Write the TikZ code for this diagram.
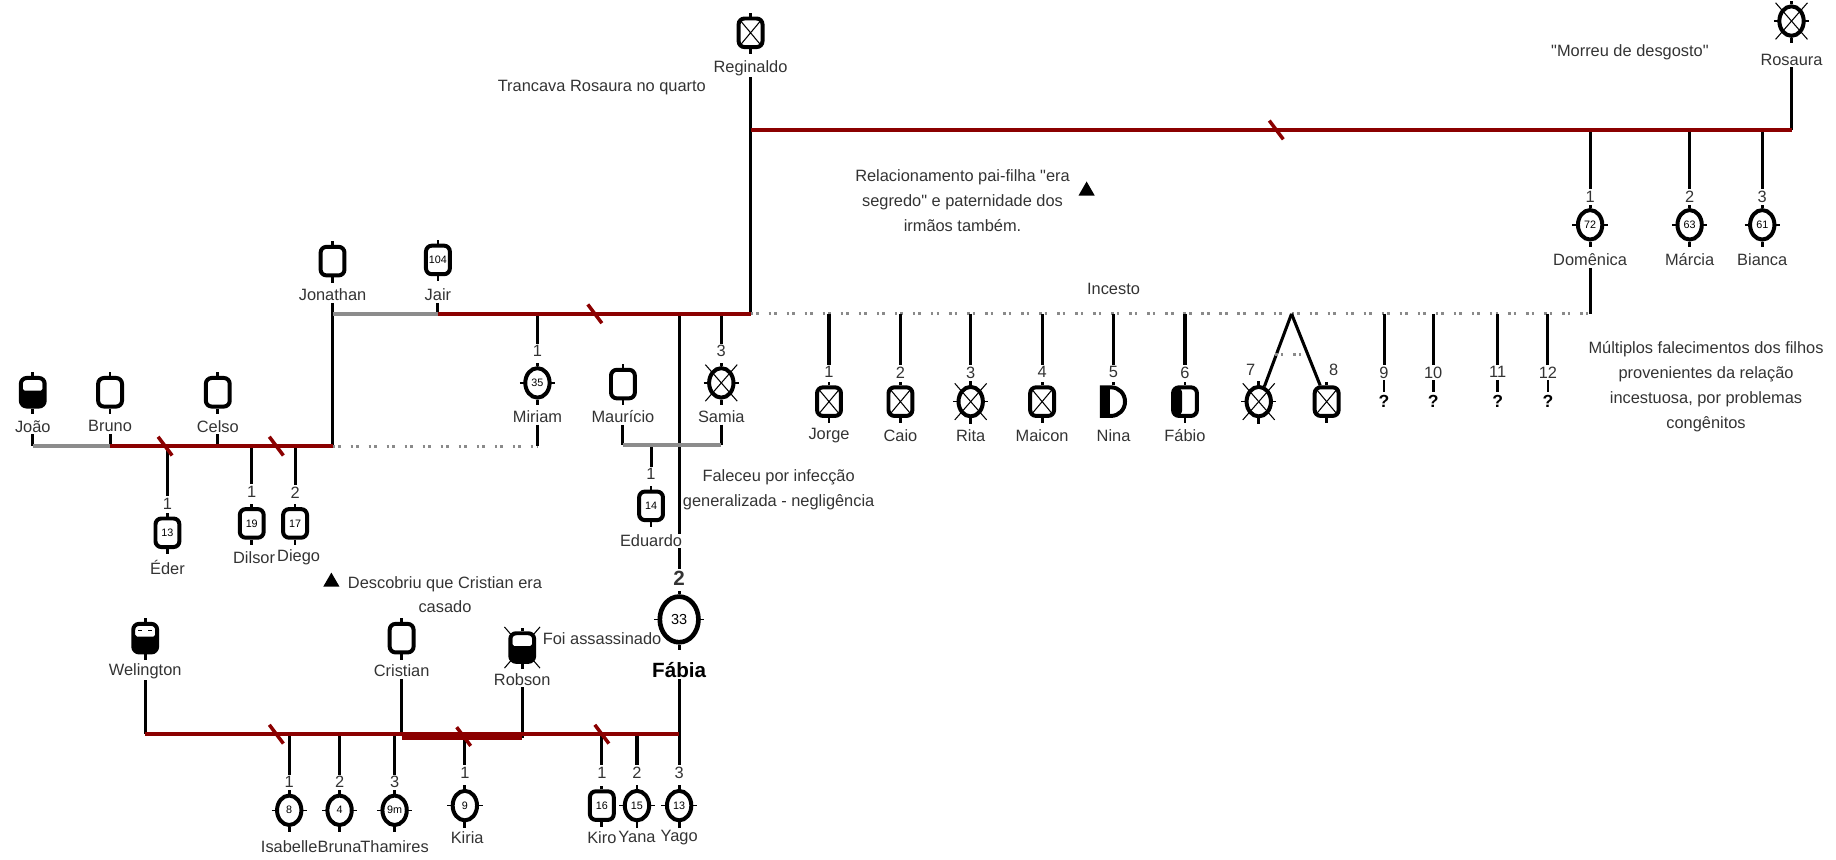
\documentclass[tikz,border=0pt]{standalone}
\usepackage{fontspec}
\setmainfont{Liberation Sans}
\usetikzlibrary{shapes.geometric}
\pgfdeclarelayer{bg}
\pgfsetlayers{bg,main}
\definecolor{famred}{HTML}{8B0000}
\definecolor{txtc}{HTML}{333333}
\definecolor{greyl}{HTML}{8C8C8C}
\definecolor{dotc}{HTML}{8A8A8A}
\tikzset{
 lab/.style={font=\fontsize{7}{8}\selectfont, text=txtc, inner sep=0.6pt},
 note/.style={lab, align=center, font=\fontsize{7}{10.7}\selectfont},
 symb/.style={line width=1.7pt, inner sep=0pt, font=\fontsize{4.6}{5}\selectfont, text=black, fill=white},
 male/.style={symb, draw, rectangle, rounded corners=2.5pt, minimum width=10.2pt, minimum height=12.2pt},
 female/.style={symb, draw, ellipse, minimum width=10.4pt, minimum height=12.6pt},
 dmx/.style={path picture={\draw[line width=0.45pt] (path picture bounding box.north west) -- (path picture bounding box.south east) (path picture bounding box.south west) -- (path picture bounding box.north east);}},
 drug/.style={fill=black, path picture={\fill[white, rounded corners=0.8pt] ([shift={(0.85pt,-0.85pt)}]path picture bounding box.north west) rectangle ([shift={(-0.85pt,-5.4pt)}]path picture bounding box.north east);}},
 halfm/.style={path picture={\fill[black] (path picture bounding box.south west) rectangle ([xshift=3.9pt]path picture bounding box.north west);}},
 famline/.style={line width=1.7pt, color=famred},
 greyline/.style={line width=1.7pt, color=greyl},
 blk/.style={line width=1.3pt, black},
 dots/.style={line width=1.3pt, dotc, dash pattern=on 1.1pt off 1.3pt on 1.1pt off 4.2pt},
 slashl/.style={line width=1.5pt, famred},
 stub/.style={line width=1.2pt},
 tickl/.style={line width=0.6pt},
 xline/.style={line width=0.45pt},
 tri/.style={regular polygon, regular polygon sides=3, fill=black, inner sep=0pt, minimum size=8pt},
 qm/.style={lab, font=\bfseries\fontsize{7.5}{8}\selectfont, text=black, inner sep=1.5pt},
}
\newcommand\Msym[4][]{\node[male,#1] (#2) at (#3) {#4};\draw[stub] (#2.north) -- ++(0,1.5pt);\draw[stub] (#2.south) -- ++(0,-2.2pt);}
\newcommand\Fsym[4][]{\node[female,#1] (#2) at (#3) {#4};\draw[stub] (#2.north) -- ++(0,1.5pt);\draw[stub] (#2.south) -- ++(0,-2.2pt);\draw[tickl] ([xshift=-1.5pt]#2.west) -- ([xshift=1pt]#2.west);\draw[tickl] ([xshift=-1pt]#2.east) -- ([xshift=1.5pt]#2.east);}
\newcommand\Xout[1]{\draw[xline] ([shift={(-6.8pt,7.8pt)}]#1.center) -- ([shift={(6.8pt,-7.8pt)}]#1.center);\draw[xline] ([shift={(-6.8pt,-7.8pt)}]#1.center) -- ([shift={(6.8pt,7.8pt)}]#1.center);}
\newcommand\Slash[2]{\draw[slashl] ([shift={(-3pt,4pt)}]#1,#2) -- ([shift={(3pt,-4pt)}]#1,#2);}
\newcommand\qq{\textquotedbl}
\begin{document}
\begin{tikzpicture}[x=0.5pt,y=-0.5pt]
\useasboundingbox (0,0) rectangle (1568,734);
% ---------- top generation
\Msym[dmx]{reg}{641,28}{}
\node[lab] (l-reg) at (641,58) {Reginaldo};
\Fsym{ros}{1530,18}{}\Xout{ros}
\node[lab] (l-ros) at (1530,51) {Rosaura};
\node[lab] (t-tran) at (514,75) {Trancava Rosaura no quarto};
\node[lab] (t-morreu) at (1392,45) {\qq Morreu de desgosto\qq};
\coordinate (r-reg) at (641,111);
\coordinate (r-ros) at (1530,111);
\coordinate (j-reg) at (641,268);
% children of Reginaldo & Rosaura
\coordinate (r-dom) at (1358,111);
\coordinate (r-mar) at (1443,111);
\coordinate (r-bia) at (1505,111);
\node[lab] (n-dom) at (1358,168) {1};
\node[lab] (n-mar) at (1443,168) {2};
\node[lab] (n-bia) at (1505,168) {3};
\Fsym{dom}{1358,192}{72}
\Fsym{mar}{1443,192}{63}
\Fsym{bia}{1505,192}{61}
\node[lab] (l-dom) at (1358,222) {Domênica};
\node[lab] (l-mar) at (1443,222) {Márcia};
\node[lab] (l-bia) at (1505,222) {Bianca};
\coordinate (i-dom) at (1358,268);
% notes
\node[note] (t-rel) at (822,171) {Relacionamento pai-filha \qq era\\segredo\qq{} e paternidade dos\\irmãos também.};
\node[tri] (tri1) at (928,163) {};
\node[lab] (t-inc) at (951,247) {Incesto};
\node[note] (t-mult) at (1457,330) {Múltiplos falecimentos dos filhos\\provenientes da relação\\incestuosa, por problemas\\congênitos};
% ---------- Jonathan / Jair
\Msym{jon}{284,223}{}
\node[lab] (l-jon) at (284,252) {Jonathan};
\Msym{jair}{374,222}{104}
\node[lab] (l-jair) at (374,252) {Jair};
\coordinate (j-jon) at (284,268);
\coordinate (j-jair) at (374,268);
% ---------- left family
\Msym[drug]{joao}{28,335}{}
\Msym{bruno}{94,335}{}
\Msym{celso}{186,335}{}
\node[lab] (l-joao) at (28,364) {João};
\node[lab] (l-bruno) at (94,364) {Bruno};
\node[lab] (l-celso) at (186,364) {Celso};
\coordinate (f-joao) at (28,381);
\coordinate (f-bruno) at (94,381);
\coordinate (f-celso) at (186,381);
\coordinate (f-jon) at (284,381);
\coordinate (f-mir) at (459,381);
\coordinate (f-eder) at (143,381);
\coordinate (f-dil) at (215,381);
\coordinate (f-die) at (252,381);
\node[lab] (n-eder) at (143,430) {1};
\node[lab] (n-dil) at (215,420) {1};
\node[lab] (n-die) at (252,421) {2};
\Msym{eder}{143,455}{13}
\Msym{dil}{215,447}{19}
\Msym{die}{252,447}{17}
\node[lab] (l-eder) at (143,485) {Éder};
\node[lab] (l-dil) at (217,476) {Dilsor};
\node[lab] (l-die) at (255,476) {Diego};
% ---------- Miriam, Mauricio, Samia, Eduardo, Fabia
\coordinate (j-mir) at (459,268);
\node[lab] (n-mir) at (459,300) {1};
\Fsym{mir}{459,327}{35}
\node[lab] (l-mir) at (459,356) {Miriam};
\Msym{mau}{532,328}{}
\node[lab] (l-mau) at (532,356) {Maurício};
\coordinate (j-sam) at (616,268);
\node[lab] (n-sam) at (616,300) {3};
\Fsym{sam}{616,327}{}\Xout{sam}
\node[lab] (l-sam) at (616,356) {Samia};
\coordinate (m-mau) at (532,380);
\coordinate (m-sam) at (616,380);
\coordinate (m-edu) at (556,380);
\node[lab] (n-edu) at (556,405) {1};
\Msym{edu}{556,432}{14}
\node[lab, fill=white] (l-edu) at (556,462) {Eduardo};
\coordinate (j-fab) at (580,268);
\node[lab, font=\bfseries\fontsize{8.8}{9}\selectfont] (n-fab) at (580,494) {2};
\Fsym[minimum width=16.5pt, minimum height=19.5pt, line width=2pt, font=\fontsize{6.2}{6}\selectfont]{fab}{580,529}{33}
\node[lab, font=\bfseries\fontsize{8.8}{9}\selectfont, text=black] (l-fab) at (580,572) {Fábia};
\node[note] (t-fal) at (665,418) {Faleceu por infecção\\generalizada - negligência};
% ---------- incest children
\foreach \k/\xx in {1/708,2/769,3/829,4/890,5/951,6/1012,9/1182,10/1224,11/1279,12/1322}{
  \coordinate (i\k) at (\xx,268);
  \node[lab] (n\k) at (\xx,318) {\k};
}
\Msym[dmx]{s1}{708,343}{}
\Msym[dmx]{s2}{769,343}{}
\Fsym{s3}{829,343}{}\Xout{s3}
\Msym[dmx]{s4}{890,343}{}
\node[inner sep=0pt, minimum width=11.5pt, minimum height=13.8pt] (s5) at (951,343) {};
\fill ([shift={(-5pt,6.1pt)}]s5.center) rectangle ([shift={(-1.4pt,-6.1pt)}]s5.center);
\draw[line width=1.7pt] ([shift={(-5pt,6.1pt)}]s5.center) -- ([shift={(-5pt,-6.1pt)}]s5.center) -- ([shift={(-1pt,-6.1pt)}]s5.center) arc[start angle=-90,end angle=90,x radius=5.9pt,y radius=6.1pt] -- cycle;
\draw[stub] (s5.north) -- ++(0,1.2pt);
\Msym[halfm]{s6}{1012,343}{}
\Fsym{s7}{1075,343}{}\Xout{s7}
\Msym[dmx]{s8}{1133,343}{}
\node[lab] (n7) at (1068,316) {7};
\node[lab] (n8) at (1139,316) {8};
\coordinate (apx) at (1103,268);
\coordinate (twl) at (1089,303);
\coordinate (twr) at (1117,303);
\foreach \k/\xx in {9/1182,10/1224,11/1279,12/1322}{
  \node[qm] (q\k) at (\xx,343) {?};
}
\node[lab] (l1) at (708,372) {Jorge};
\node[lab] (l2) at (769,372) {Caio};
\node[lab] (l3) at (829,372) {Rita};
\node[lab] (l4) at (890,372) {Maicon};
\node[lab] (l5) at (951,372) {Nina};
\node[lab] (l6) at (1012,372) {Fábio};
% ---------- bottom family
\node[tri] (tri2) at (283,497) {};
\node[note, font=\fontsize{7}{10}\selectfont] (t-desc) at (380,508) {Descobriu que Cristian era\\casado};
\Msym[drug]{wel}{124,545}{}
\draw[line width=0.4pt] ([shift={(-3pt,3.3pt)}]wel.center) -- ++(1.8pt,0) ([shift={(1.2pt,3.3pt)}]wel.center) -- ++(1.8pt,0);
\node[lab] (l-wel) at (124,573) {Welington};
\Msym{cris}{343,545}{}
\node[lab] (l-cris) at (343,573) {Cristian};
\draw[xline] ([shift={(-7.6pt,8.8pt)}]446,553) -- ([shift={(7.6pt,-8.8pt)}]446,553);
\draw[xline] ([shift={(-7.6pt,-8.8pt)}]446,553) -- ([shift={(7.6pt,8.8pt)}]446,553);
\Msym[drug]{rob}{446,553}{}
\node[lab] (l-rob) at (446,580) {Robson};
\node[lab, anchor=west] (t-foi) at (462,545) {Foi assassinado};
\coordinate (b-wel) at (124,627);
\coordinate (b-cris) at (343,627);
\coordinate (b-cris2) at (343,630);
\coordinate (b-rob) at (446,630);
\coordinate (b-fab) at (580,627);
\foreach \nm/\xx/\yy in {isa/247/627,bru/290/627,tha/337/627,kir/397/630,kro/514/627,yan/544/627,yag/580/627}{
  \coordinate (b-\nm) at (\xx,\yy);
}
\node[lab] (n-isa) at (247,668) {1};
\node[lab] (n-bru) at (290,668) {2};
\node[lab] (n-tha) at (337,668) {3};
\node[lab] (n-kir) at (397,660) {1};
\node[lab] (n-kro) at (514,660) {1};
\node[lab] (n-yan) at (544,660) {2};
\node[lab] (n-yag) at (580,660) {3};
\Fsym{isa}{247,692}{8}
\Fsym{bru}{290,692}{4}
\Fsym{tha}{337,692}{9m}
\Fsym{kir}{397,688}{9}
\Msym{kro}{514,688}{16}
\Fsym{yan}{544,688}{15}
\Fsym{yag}{580,688}{13}
\node[lab] (l-isa) at (247,723) {Isabelle};
\node[lab] (l-bru) at (290,723) {Bruna};
\node[lab] (l-tha) at (337,723) {Thamires};
\node[lab] (l-kir) at (399,715) {Kiria};
\node[lab] (l-kro) at (514,715) {Kiro};
\node[lab] (l-yan) at (544,715) {Yana};
\node[lab] (l-yag) at (580,715) {Yago};
% ---------- connectors
\begin{pgfonlayer}{bg}
\draw[blk] (l-reg) -- (j-reg);
\draw[blk] (l-ros) -- (r-ros);
\draw[blk] (r-dom) -- (n-dom);
\draw[blk] (r-mar) -- (n-mar);
\draw[blk] (r-bia) -- (n-bia);
\draw[blk] (l-dom) -- (i-dom);
\draw[famline] (r-reg) -- (r-ros);
\draw[dots] (j-reg) -- (i-dom);
\draw[blk] (l-jon) -- (f-jon);
\draw[blk] (l-jair) -- (j-jair);
\draw[greyline] (j-jon) -- (j-jair);
\draw[blk] (j-mir) -- (n-mir);
\draw[blk] (j-sam) -- (n-sam);
\draw[blk] (j-fab) -- (n-fab);
\draw[famline] (j-jair) -- (j-reg);
\draw[blk] (l-joao) -- (f-joao);
\draw[blk] (l-bruno) -- (f-bruno);
\draw[blk] (l-celso) -- (f-celso);
\draw[blk] (f-eder) -- (n-eder);
\draw[blk] (f-dil) -- (n-dil);
\draw[blk] (f-die) -- (n-die);
\draw[greyline] (f-joao) -- (f-bruno);
\draw[famline] (f-bruno) -- (f-jon);
\draw[dots] (f-jon) -- (f-mir);
\draw[blk] (l-mir) -- (f-mir);
\draw[blk] (l-mau) -- (m-mau);
\draw[blk] (l-sam) -- (m-sam);
\draw[blk] (m-edu) -- (n-edu);
\draw[greyline] (m-mau) -- (m-sam);
\draw[blk] (l-fab) -- (b-fab);
\foreach \k in {1,2,3,4,5,6,9,10,11,12}{\draw[blk] (i\k) -- (n\k);}
\foreach \k in {9,10,11,12}{\draw[line width=1.2pt] (n\k) -- (q\k);}
\draw[blk] (apx) -- (s7);
\draw[blk] (apx) -- (s8);
\draw[dots] (twl) -- (twr);
\draw[blk] (l-wel) -- (b-wel);
\draw[blk] (l-cris) -- (b-cris);
\draw[blk] (l-rob) -- (b-rob);
\foreach \nm in {isa,bru,tha,kir,kro,yan,yag}{\draw[blk] (b-\nm) -- (n-\nm);}
\draw[famline] (b-wel) -- (b-fab);
\draw[famline] (b-cris2) -- (b-rob);
\end{pgfonlayer}
\Slash{1090}{111}
\Slash{508}{268}
\Slash{141}{381}
\Slash{236}{381}
\Slash{236}{627}
\Slash{396}{629}
\Slash{514}{627}
\end{tikzpicture}
\end{document}
